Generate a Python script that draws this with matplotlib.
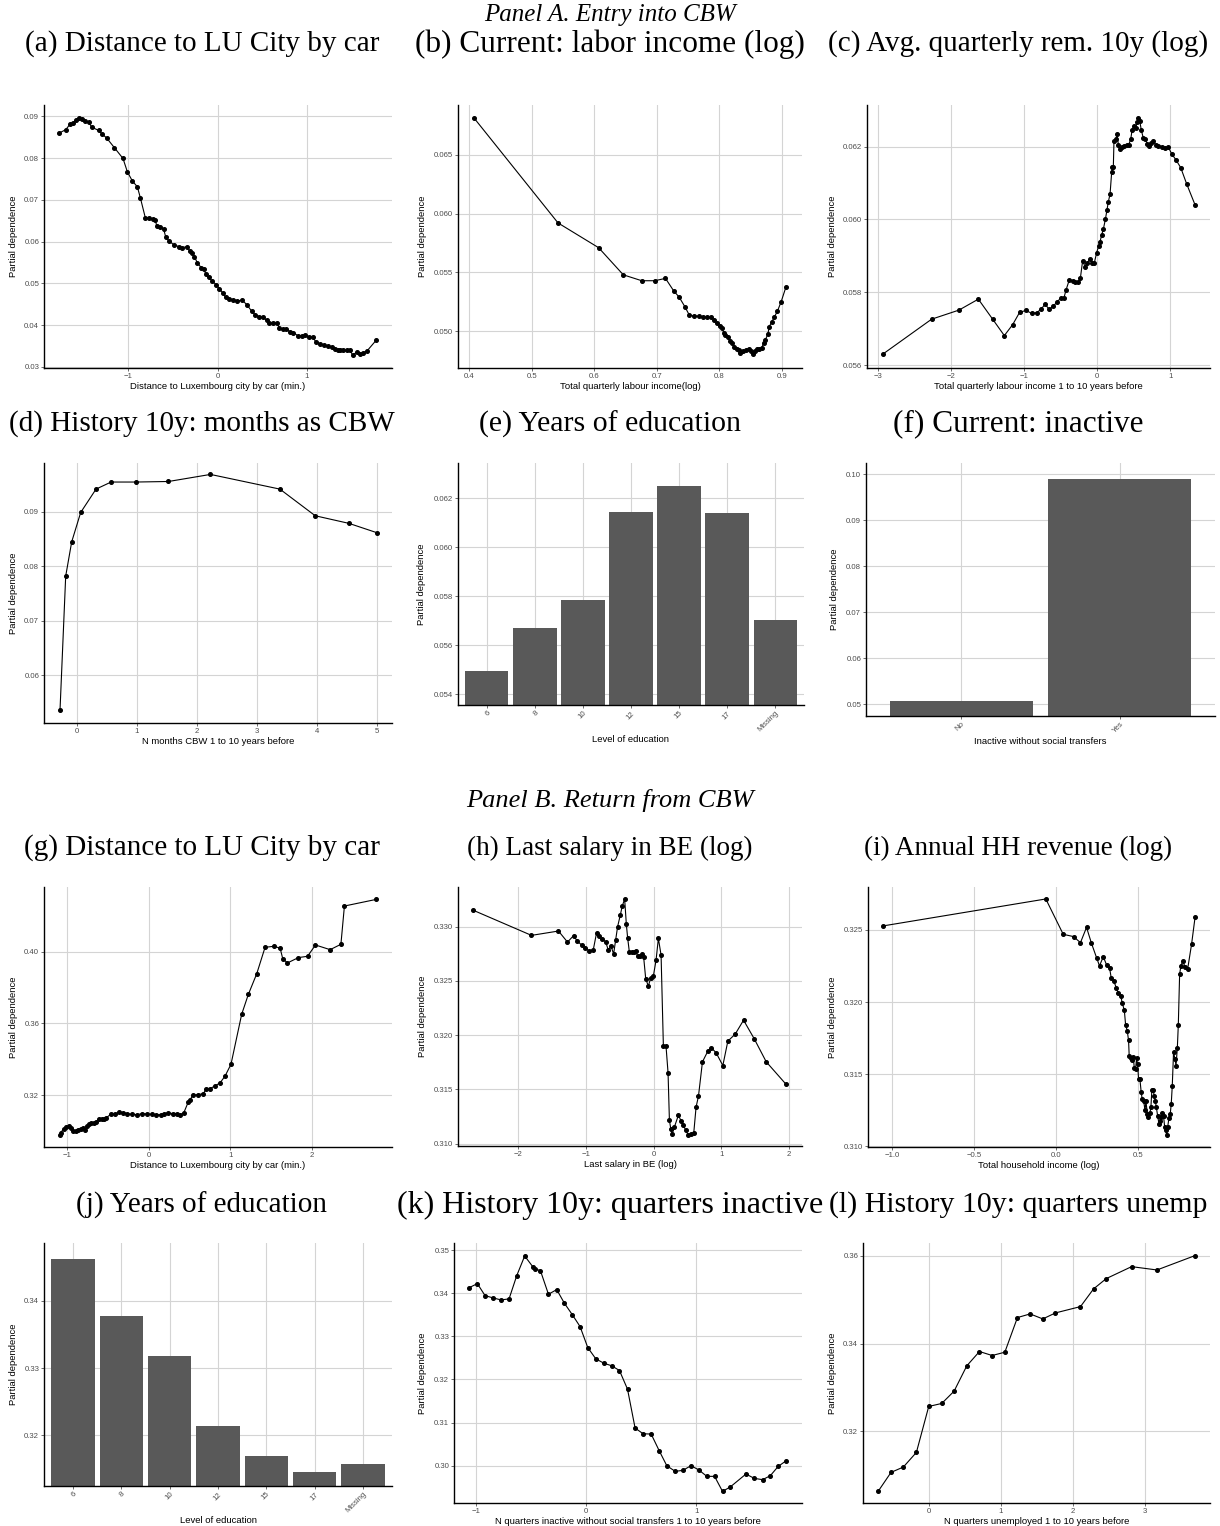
import matplotlib
matplotlib.use("Agg")
import matplotlib.pyplot as plt
from matplotlib.ticker import FuncFormatter

W, H, DPI = 1220, 1526, 100

# ---- Panel A data ----
# (a) distance to LU city (entry)
dist_in_x = [-1.772, -1.70, -1.653, -1.616, -1.586, -1.556, -1.522, -1.481, -1.444, -1.41,
             -1.332, -1.291, -1.243, -1.157, -1.06, -1.011, -0.955, -0.899, -0.866, -0.81,
             -0.769, -0.728, -0.698, -0.683, -0.646, -0.604, -0.582, -0.545, -0.489, -0.437,
             -0.396, -0.343, -0.313, -0.287, -0.261, -0.228, -0.183, -0.153, -0.131, -0.101,
             -0.06, -0.019, 0.019, 0.056, 0.09, 0.131, 0.168, 0.216, 0.276, 0.325,
             0.381, 0.422, 0.466, 0.511, 0.549, 0.578, 0.623, 0.668, 0.690, 0.728,
             0.761, 0.81, 0.847, 0.899, 0.94, 0.974, 1.019, 1.063, 1.101, 1.146,
             1.19, 1.231, 1.276, 1.317, 1.343, 1.37, 1.407, 1.444, 1.481, 1.511,
             1.556, 1.593, 1.631, 1.672, 1.772]
dist_in_pd = [0.0860, 0.0868, 0.0881, 0.0885, 0.0890, 0.0896, 0.0893, 0.0888, 0.0886, 0.0874,
              0.0866, 0.0857, 0.0848, 0.0825, 0.0799, 0.0767, 0.0745, 0.0731, 0.0705, 0.0657,
              0.0656, 0.0654, 0.0651, 0.0638, 0.0635, 0.0629, 0.0611, 0.0601, 0.0592, 0.0588,
              0.0585, 0.0588, 0.0577, 0.0572, 0.0564, 0.0549, 0.0537, 0.0533, 0.0521, 0.0514,
              0.0505, 0.0497, 0.0487, 0.0477, 0.0466, 0.0462, 0.0461, 0.0458, 0.0459, 0.0449,
              0.0433, 0.0424, 0.0420, 0.0418, 0.0411, 0.0404, 0.0404, 0.0404, 0.0392, 0.0391,
              0.0390, 0.0384, 0.0382, 0.0374, 0.0374, 0.0376, 0.0371, 0.0371, 0.0359, 0.0355,
              0.0352, 0.0350, 0.0347, 0.0343, 0.0340, 0.0339, 0.0339, 0.0339, 0.0339, 0.0328,
              0.0335, 0.0331, 0.0334, 0.0338, 0.0363]

# (b) current labour income
labinc_x = [0.4075, 0.542, 0.607, 0.6465, 0.676, 0.697, 0.714, 0.727, 0.736, 0.745,
            0.752, 0.759, 0.767, 0.774, 0.780, 0.787, 0.791, 0.796, 0.801, 0.805,
            0.807, 0.810, 0.814, 0.817, 0.821, 0.824, 0.828, 0.831, 0.834, 0.838,
            0.843, 0.848, 0.851, 0.854, 0.857, 0.861, 0.864, 0.868, 0.871, 0.874,
            0.878, 0.880, 0.884, 0.888, 0.893, 0.899, 0.907]
labinc_pd = [0.0681, 0.0592, 0.0571, 0.0548, 0.0543, 0.0543, 0.0545, 0.05345, 0.0529, 0.0521,
             0.0514, 0.0513, 0.0513, 0.0512, 0.0512, 0.0512, 0.0510, 0.0507, 0.0505, 0.0503,
             0.0499, 0.0497, 0.0495, 0.0492, 0.0490, 0.0487, 0.0485, 0.0484, 0.0482, 0.0483,
             0.0484, 0.0485, 0.0483, 0.0481, 0.0483, 0.0485, 0.0485, 0.0486, 0.0490, 0.0493,
             0.0498, 0.0504, 0.0508, 0.0512, 0.0517, 0.0525, 0.0538]

# (c) avg quarterly remuneration 10y
rem10_x = [-2.932, -2.27, -1.895, -1.63, -1.434, -1.274, -1.16, -1.064, -0.977, -0.90,
           -0.831, -0.772, -0.717, -0.658, -0.603, -0.557, -0.498, -0.457, -0.429, -0.384,
           -0.338, -0.301, -0.26, -0.233, -0.201, -0.169, -0.137, -0.1, -0.068, -0.041,
           -0.009, 0.018, 0.037, 0.059, 0.082, 0.11, 0.132, 0.151, 0.174, 0.196,
           0.206, 0.219, 0.228, 0.256, 0.269, 0.288, 0.315, 0.342, 0.37, 0.402,
           0.429, 0.457, 0.475, 0.498, 0.525, 0.543, 0.562, 0.58, 0.603, 0.63,
           0.658, 0.685, 0.712, 0.74, 0.767, 0.799, 0.836, 0.881, 0.927, 0.973,
           1.018, 1.078, 1.142, 1.224, 1.338]
rem10_pd = [0.05631, 0.05726, 0.05751, 0.05781, 0.05726, 0.05681, 0.05711, 0.05745, 0.05750, 0.05742,
            0.05744, 0.05753, 0.05767, 0.05753, 0.05762, 0.05772, 0.05785, 0.05785, 0.05806, 0.05834,
            0.05832, 0.05827, 0.05829, 0.05838, 0.05887, 0.05870, 0.05881, 0.05891, 0.05881, 0.05881,
            0.05909, 0.05927, 0.05939, 0.05957, 0.05973, 0.06000, 0.06026, 0.06049, 0.06069, 0.06129,
            0.06145, 0.06145, 0.06216, 0.06220, 0.06234, 0.06205, 0.06193, 0.06198, 0.06202, 0.06203,
            0.06205, 0.06220, 0.06244, 0.06255, 0.06252, 0.06266, 0.06278, 0.06271, 0.06244, 0.06223,
            0.06221, 0.06207, 0.06202, 0.06211, 0.06214, 0.06205, 0.06202, 0.06200, 0.06195, 0.06198,
            0.06180, 0.06163, 0.06142, 0.06097, 0.06040]

# (d) months as CBW
cbw_months_x = [-0.284, -0.189, -0.089, 0.061, 0.317, 0.568, 0.98, 1.526, 2.227, 3.385,
                3.975, 4.538, 5.0]
cbw_months_pd = [0.0535, 0.0782, 0.0845, 0.0899, 0.0942, 0.0955, 0.0955, 0.0956, 0.0969, 0.0942,
                 0.0893, 0.0879, 0.0862]

# (e) education (entry)
edu_levels = ["6", "8", "10", "12", "15", "17", "Missing"]
edu_in_pd = [0.05493, 0.05669, 0.05785, 0.06144, 0.06250, 0.06140, 0.05703]

# (f) inactive
inactive_levels = ["No", "Yes"]
inactive_pd = [0.0508, 0.0989]

# ---- Panel B data ----
# (g) distance to LU city (return)
dist_out_x = [-1.094, -1.082, -1.045, -1.012, -0.98, -0.955, -0.93, -0.898, -0.865, -0.832,
              -0.807, -0.783, -0.758, -0.734, -0.705, -0.676, -0.643, -0.611, -0.578, -0.549,
              -0.52, -0.467, -0.418, -0.369, -0.316, -0.266, -0.213, -0.143, -0.082, -0.029,
              0.033, 0.086, 0.143, 0.189, 0.238, 0.291, 0.34, 0.381, 0.43, 0.484,
              0.504, 0.537, 0.607, 0.668, 0.701, 0.75, 0.811, 0.873, 0.934, 1.008,
              1.139, 1.221, 1.324, 1.426, 1.537, 1.611, 1.643, 1.701, 1.836, 1.947,
              2.045, 2.225, 2.357, 2.40, 2.791]
dist_out_pd = [0.2977, 0.2992, 0.3014, 0.3024, 0.3027, 0.3020, 0.3001, 0.3001, 0.3005, 0.3014,
               0.3020, 0.3009, 0.3027, 0.3042, 0.3048, 0.3048, 0.3050, 0.3066, 0.3070, 0.3068,
               0.3076, 0.3094, 0.3094, 0.3107, 0.3104, 0.3098, 0.3094, 0.3092, 0.3098, 0.3096,
               0.3094, 0.3092, 0.3092, 0.3098, 0.3102, 0.3098, 0.3098, 0.3089, 0.3104, 0.3163,
               0.3172, 0.3200, 0.3204, 0.3209, 0.3233, 0.3237, 0.3252, 0.3269, 0.3306, 0.3373,
               0.3651, 0.3762, 0.3877, 0.4024, 0.4030, 0.4019, 0.3961, 0.3937, 0.3967, 0.3974,
               0.4037, 0.4011, 0.4041, 0.4254, 0.4291]

# (h) last salary in BE
salary_be_x = [-2.663, -1.805, -1.406, -1.273, -1.184, -1.129, -1.065, -1.011, -0.952, -0.893,
               -0.843, -0.809, -0.760, -0.710, -0.671, -0.631, -0.592, -0.562, -0.533, -0.493,
               -0.464, -0.429, -0.404, -0.385, -0.36, -0.326, -0.296, -0.266, -0.237, -0.207,
               -0.178, -0.148, -0.118, -0.079, -0.044, -0.005, 0.035, 0.069, 0.109, 0.143,
               0.182, 0.212, 0.232, 0.252, 0.271, 0.306, 0.365, 0.404, 0.439, 0.473,
               0.513, 0.552, 0.592, 0.626, 0.661, 0.72, 0.799, 0.848, 0.922, 1.021,
               1.095, 1.203, 1.327, 1.485, 1.662, 1.953]
salary_be_pd = [0.33151, 0.32920, 0.32960, 0.32858, 0.32917, 0.32868, 0.32831, 0.32800, 0.32778, 0.32785,
                0.32945, 0.32914, 0.32883, 0.32862, 0.32785, 0.32822, 0.32748, 0.32877, 0.33000, 0.33108,
                0.33191, 0.33255, 0.33022, 0.32898, 0.32769, 0.32766, 0.32766, 0.32772, 0.32729, 0.32729,
                0.32748, 0.32717, 0.32520, 0.32452, 0.32529, 0.32545, 0.32692, 0.32892, 0.32738, 0.31898,
                0.31898, 0.31652, 0.31215, 0.31138, 0.31086, 0.31154, 0.31262, 0.31209, 0.31169, 0.31123,
                0.31077, 0.31086, 0.31102, 0.31338, 0.31437, 0.31754, 0.31852, 0.31886, 0.31837, 0.31720,
                0.31945, 0.32009, 0.32138, 0.31966, 0.31754, 0.31548]

# (i) household income
hh_inc_x = [-1.055, -0.063, 0.043, 0.106, 0.148, 0.185, 0.215, 0.246, 0.264, 0.287,
            0.307, 0.325, 0.335, 0.35, 0.366, 0.378, 0.394, 0.402, 0.415, 0.423,
            0.433, 0.441, 0.445, 0.453, 0.461, 0.470, 0.476, 0.484, 0.49, 0.496,
            0.502, 0.510, 0.518, 0.524, 0.533, 0.541, 0.547, 0.555, 0.561, 0.571,
            0.577, 0.583, 0.591, 0.598, 0.604, 0.61, 0.618, 0.626, 0.634, 0.640,
            0.646, 0.654, 0.661, 0.667, 0.673, 0.679, 0.687, 0.695, 0.701, 0.707,
            0.715, 0.724, 0.730, 0.738, 0.744, 0.752, 0.760, 0.772, 0.785, 0.801,
            0.825, 0.846]
hh_inc_pd = [0.32528, 0.32715, 0.32470, 0.32454, 0.32412, 0.32518, 0.32408, 0.32308, 0.32251, 0.32315,
             0.32258, 0.32239, 0.32170, 0.32147, 0.32101, 0.32062, 0.32045, 0.31993, 0.31946, 0.31842,
             0.31801, 0.31734, 0.31623, 0.31612, 0.31600, 0.31616, 0.31542, 0.31538, 0.31612, 0.31570,
             0.31466, 0.31466, 0.31374, 0.31328, 0.31316, 0.31249, 0.31312, 0.31226, 0.31203, 0.31231,
             0.31270, 0.31392, 0.31388, 0.31346, 0.31312, 0.31272, 0.31212, 0.31157, 0.31173, 0.31203,
             0.31231, 0.31208, 0.31134, 0.31111, 0.31081, 0.31132, 0.31196, 0.31226, 0.31295, 0.31415,
             0.31651, 0.31605, 0.31559, 0.31681, 0.31842, 0.32193, 0.32253, 0.32285, 0.32242, 0.32230,
             0.32403, 0.32588]

# (j) education (return)
edu_out_pd = [0.34627, 0.33776, 0.33179, 0.32134, 0.31687, 0.31448, 0.31567]

# (k) quarters inactive
q_inact_x = [-1.061, -0.988, -0.918, -0.845, -0.773, -0.70, -0.63, -0.558, -0.485, -0.464,
             -0.415, -0.342, -0.267, -0.197, -0.124, -0.055, 0.015, 0.088, 0.161, 0.233,
             0.303, 0.376, 0.445, 0.518, 0.591, 0.664, 0.733, 0.809, 0.879, 0.952,
             1.021, 1.097, 1.167, 1.239, 1.309, 1.452, 1.527, 1.603, 1.673, 1.745,
             1.818]
q_inact_pd = [0.34131, 0.34224, 0.33946, 0.33892, 0.33846, 0.33869, 0.34409, 0.34865, 0.34618, 0.34564,
              0.34525, 0.33977, 0.34085, 0.33768, 0.33498, 0.33228, 0.32741, 0.32479, 0.32378, 0.32317,
              0.32208, 0.31776, 0.30873, 0.30741, 0.30734, 0.30347, 0.30000, 0.29869, 0.29892, 0.30000,
              0.29907, 0.29753, 0.29753, 0.29405, 0.29506, 0.29807, 0.29707, 0.29676, 0.29768, 0.29985,
              0.30116]

# (l) quarters unemployed
q_unemp_x = [-0.699, -0.523, -0.352, -0.171, 0.0, 0.181, 0.352, 0.528, 0.704, 0.880,
             1.056, 1.231, 1.407, 1.583, 1.759, 2.106, 2.287, 2.463, 2.815, 3.167,
             3.694]
q_unemp_pd = [0.30641, 0.31066, 0.31188, 0.31522, 0.32569, 0.32638, 0.32918, 0.33495, 0.33822, 0.33731,
              0.33806, 0.34596, 0.34679, 0.34565, 0.34702, 0.34846, 0.35249, 0.35484, 0.35757, 0.35681,
              0.36008]

SANS = "Liberation Sans"
SERIF = "Liberation Serif"
GRID = "#d4d4d4"
BAR = "#595959"

fig = plt.figure(figsize=(W / DPI, H / DPI), dpi=DPI)


def fmt(f):
    return FuncFormatter(lambda v, pos: (f % v).replace('-', '\u2212'))


def base_axes(box, ylab_x, xlabel):
    left, top, right, bottom = box
    ax = fig.add_axes([left / W, 1 - bottom / H, (right - left) / W, (bottom - top) / H])
    for s in ['top', 'right']:
        ax.spines[s].set_visible(False)
    for s in ['left', 'bottom']:
        ax.spines[s].set_linewidth(1.0)
        ax.spines[s].set_color('black')
    ax.grid(True, color=GRID, linewidth=0.8)
    ax.set_axisbelow(True)
    ax.tick_params(length=2, width=0.5, color='#333333', labelsize=5.6,
                   labelcolor='#4d4d4d', pad=1.5)
    ax.set_xlabel(xlabel, fontsize=6.8, family=SANS, labelpad=1.5)
    ax.set_ylabel('Partial dependence', fontsize=6.8, family=SANS)
    ax.yaxis.set_label_coords(ylab_x / W, 1 - (top + bottom) / 2 / H,
                              transform=fig.transFigure)
    return ax


def line_panel(box, ylab_x, x, y, xlim, ylim, xticks, yticks, xf, yf, xlabel):
    ax = base_axes(box, ylab_x, xlabel)
    ax.plot(x, y, color='black', lw=0.8, marker='o', ms=2.6, zorder=3)
    ax.set_xlim(*xlim)
    ax.set_ylim(*ylim)
    ax.set_xticks(xticks)
    ax.set_yticks(yticks)
    ax.xaxis.set_major_formatter(fmt(xf))
    ax.yaxis.set_major_formatter(fmt(yf))
    for lab in ax.get_xticklabels() + ax.get_yticklabels():
        lab.set_family(SANS)
    return ax


def bar_panel(box, ylab_x, cats, vals, ylim, yticks, yf, xlabel):
    ax = base_axes(box, ylab_x, xlabel)
    ax.bar(range(len(cats)), vals, width=0.9, color=BAR, zorder=2)
    ax.set_xlim(-0.6, len(cats) - 0.4)
    ax.set_ylim(*ylim)
    ax.set_xticks(range(len(cats)))
    ax.set_xticklabels(cats, rotation=45, ha='right', rotation_mode='anchor')
    ax.set_yticks(yticks)
    ax.yaxis.set_major_formatter(fmt(yf))
    for lab in ax.get_xticklabels() + ax.get_yticklabels():
        lab.set_family(SANS)
    return ax


# ---- titles ----
fig.text(610 / W, 1 - 15 / H, 'Panel A. Entry into CBW', style='italic',
         ha='center', va='center', family=SERIF, fontsize=18)
fig.text(610 / W, 1 - 801 / H, 'Panel B. Return from CBW', style='italic',
         ha='center', va='center', family=SERIF, fontsize=19)
sub_titles = [
    ('(a) Distance to LU City by car', 202, 44, 21),
    ('(b) Current: labor income (log)', 610, 44, 22.5),
    ('(c) Avg. quarterly rem. 10y (log)', 1018, 44, 21),
    ('(d) History 10y: months as CBW', 202, 424, 21),
    ('(e) Years of education', 610, 424, 21.5),
    ('(f) Current: inactive', 1018, 424, 22.5),
    ('(g) Distance to LU City by car', 202, 848, 21),
    ('(h) Last salary in BE (log)', 610, 848, 19.5),
    ('(i) Annual HH revenue (log)', 1018, 848, 19.5),
    ('(j) Years of education', 202, 1205, 21),
    ('(k) History 10y: quarters inactive', 610, 1205, 23),
    ('(l) History 10y: quarters unemp', 1018, 1205, 21.5),
]
for txt, cx, cy, size in sub_titles:
    fig.text(cx / W, 1 - cy / H, txt, ha='center', va='center', family=SERIF, fontsize=size)

# ---- row 1 ----
line_panel((44, 105, 392, 368), 18, dist_in_x, dist_in_pd, (-1.944, 1.951), (0.0297, 0.0927),
           [-1, 0, 1], [0.03, 0.04, 0.05, 0.06, 0.07, 0.08, 0.09], '%d', '%.2f',
           'Distance to Luxembourg city by car (min.)')
line_panel((458, 105, 802, 368), 427, labinc_x, labinc_pd, (0.3819, 0.9325), (0.0469, 0.0692),
           [0.4, 0.5, 0.6, 0.7, 0.8, 0.9], [0.050, 0.055, 0.060, 0.065], '%.1f', '%.3f',
           'Total quarterly labour income(log)')
line_panel((867, 105, 1210, 368), 837, rem10_x, rem10_pd, (-3.155, 1.543), (0.05592, 0.06314),
           [-3, -2, -1, 0, 1], [0.056, 0.058, 0.060, 0.062], '%d', '%.3f',
           'Total quarterly labour income 1 to 10 years before')

# ---- row 2 ----
line_panel((44, 463, 392, 723), 18, cbw_months_x, cbw_months_pd, (-0.551, 5.256), (0.0512, 0.0990),
           [0, 1, 2, 3, 4, 5], [0.06, 0.07, 0.08, 0.09], '%d', '%.2f',
           'N months CBW 1 to 10 years before')
bar_panel((458, 463, 804, 705), 426, edu_levels, edu_in_pd, (0.05356, 0.06343),
          [0.054, 0.056, 0.058, 0.060, 0.062], '%.3f', 'Level of education')
bar_panel((866, 463, 1215, 716), 839, inactive_levels, inactive_pd, (0.04746, 0.1024),
          [0.05, 0.06, 0.07, 0.08, 0.09, 0.10], '%.2f', 'Inactive without social transfers')

# ---- row 3 ----
line_panel((44, 887, 392, 1147), 18, dist_out_x, dist_out_pd, (-1.287, 2.984), (0.2912, 0.436),
           [-1, 0, 1, 2], [0.32, 0.36, 0.40], '%d', '%.2f',
           'Distance to Luxembourg city by car (min.)')
line_panel((458, 887, 802, 1146), 427, salary_be_x, salary_be_pd, (-2.89, 2.19), (0.30978, 0.33366),
           [-2, -1, 0, 1, 2], [0.310, 0.315, 0.320, 0.325, 0.330], '%d', '%.3f',
           'Last salary in BE (log)')
line_panel((868, 887, 1210, 1147), 837, hh_inc_x, hh_inc_pd, (-1.146, 0.937), (0.30995, 0.32798),
           [-1.0, -0.5, 0.0, 0.5], [0.310, 0.315, 0.320, 0.325], '%.1f', '%.3f',
           'Total household income (log)')

# ---- row 4 ----
bar_panel((44, 1243, 392, 1486), 18, edu_levels, edu_out_pd, (0.31244, 0.34861),
          [0.32, 0.33, 0.34], '%.2f', 'Level of education')
line_panel((454, 1243, 802, 1503), 427, q_inact_x, q_inact_pd, (-1.2, 1.961), (0.29135, 0.35166),
           [-1, 0, 1], [0.30, 0.31, 0.32, 0.33, 0.34, 0.35], '%d', '%.2f',
           'N quarters inactive without social transfers 1 to 10 years before')
line_panel((863, 1243, 1210, 1503), 837, q_unemp_x, q_unemp_pd, (-0.912, 3.903), (0.30368, 0.36296),
           [0, 1, 2, 3], [0.32, 0.34, 0.36], '%d', '%.2f',
           'N quarters unemployed 1 to 10 years before')

fig.savefig('out.png', dpi=DPI)
